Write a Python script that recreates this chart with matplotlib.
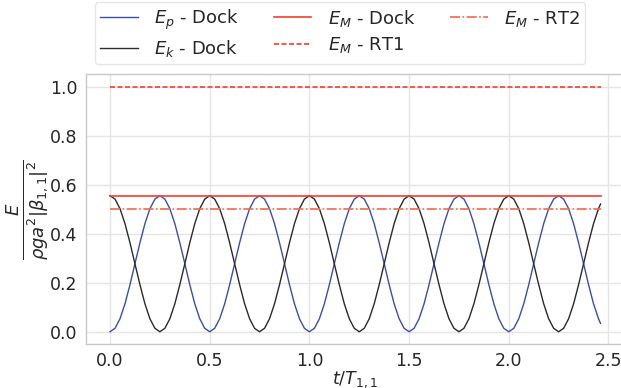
import numpy as np
import matplotlib
matplotlib.use("Agg")
import matplotlib.pyplot as plt

# time samples t/T_{1,1}
t = [round(0.025 * k, 3) for k in range(99)] + [2.46]

# potential energy (Dock)
Ep = [
    0.000, 0.014, 0.053, 0.114, 0.192, 0.278, 0.363, 0.441, 0.502, 0.541,
    0.555, 0.541, 0.502, 0.441, 0.363, 0.278, 0.192, 0.114, 0.053, 0.014,
    0.000, 0.014, 0.053, 0.114, 0.192, 0.278, 0.363, 0.441, 0.502, 0.541,
    0.555, 0.541, 0.502, 0.441, 0.363, 0.278, 0.192, 0.114, 0.053, 0.014,
    0.000, 0.014, 0.053, 0.114, 0.192, 0.278, 0.363, 0.441, 0.502, 0.541,
    0.555, 0.541, 0.502, 0.441, 0.363, 0.278, 0.192, 0.114, 0.053, 0.014,
    0.000, 0.014, 0.053, 0.114, 0.192, 0.278, 0.363, 0.441, 0.502, 0.541,
    0.555, 0.541, 0.502, 0.441, 0.363, 0.278, 0.192, 0.114, 0.053, 0.014,
    0.000, 0.014, 0.053, 0.114, 0.192, 0.278, 0.363, 0.441, 0.502, 0.541,
    0.555, 0.541, 0.502, 0.441, 0.363, 0.278, 0.192, 0.114, 0.053, 0.034,
]

# kinetic energy (Dock)
Ek = [
    0.555, 0.541, 0.502, 0.441, 0.363, 0.277, 0.192, 0.114, 0.053, 0.014,
    0.000, 0.014, 0.053, 0.114, 0.192, 0.277, 0.363, 0.441, 0.502, 0.541,
    0.555, 0.541, 0.502, 0.441, 0.363, 0.277, 0.192, 0.114, 0.053, 0.014,
    0.000, 0.014, 0.053, 0.114, 0.192, 0.277, 0.363, 0.441, 0.502, 0.541,
    0.555, 0.541, 0.502, 0.441, 0.363, 0.277, 0.192, 0.114, 0.053, 0.014,
    0.000, 0.014, 0.053, 0.114, 0.192, 0.277, 0.363, 0.441, 0.502, 0.541,
    0.555, 0.541, 0.502, 0.441, 0.363, 0.277, 0.192, 0.114, 0.053, 0.014,
    0.000, 0.014, 0.053, 0.114, 0.192, 0.277, 0.363, 0.441, 0.502, 0.541,
    0.555, 0.541, 0.502, 0.441, 0.363, 0.277, 0.192, 0.114, 0.053, 0.014,
    0.000, 0.014, 0.053, 0.114, 0.192, 0.277, 0.363, 0.441, 0.502, 0.521,
]

EM_dock = 0.555
EM_rt1 = 1.0
EM_rt2 = 0.5

labels = [r"$E_p$ - Dock", r"$E_k$ - Dock", r"$E_M$ - Dock", r"$E_M$ - RT1", r"$E_M$ - RT2"]
xticks = [0.0, 0.5, 1.0, 1.5, 2.0, 2.5]
yticks = [0.0, 0.2, 0.4, 0.6, 0.8, 1.0]

plt.rcParams['font.family'] = ['DejaVu Sans']
plt.rcParams['mathtext.fontset'] = 'dejavusans'
txt = '#262626'
fs = 12.5

fig = plt.figure(figsize=(6.21, 3.88), dpi=100)
ax = fig.add_axes([0.1377, 0.1134, 0.8688, 0.695])

n = len(t)
h1, = ax.plot(t, Ep, color='#3a4db3', lw=1.0)
h2, = ax.plot(t, Ek, color='#2a2a2a', lw=1.0)
h3, = ax.plot(t, [EM_dock] * n, color='#f53d30', lw=1.2)
h4, = ax.plot(t, [EM_rt1] * n, color='#f53d30', lw=1.2, ls=(0, (3, 1.5)))
h5, = ax.plot(t, [EM_rt2] * n, color='#f4664a', lw=1.2, ls=(0, (6, 1.5, 1, 1.5)))

ax.set_xlim(-0.123, 2.583)
ax.set_ylim(-0.05, 1.05)
ax.set_xticks(xticks)
ax.set_yticks(yticks)
ax.set_xticklabels([f"{v:.1f}" for v in xticks])
ax.set_yticklabels([f"{v:.1f}" for v in yticks])
ax.tick_params(axis='both', labelsize=fs, colors=txt, length=0, pad=6)
ax.grid(True, color='#e5e5e5', lw=1.0)
ax.set_axisbelow(True)
for s in ax.spines.values():
    s.set_color('#c8c8c8')
    s.set_linewidth(1.0)

ax.set_xlabel(r"$t/T_{1,1}$", fontsize=fs, color=txt, labelpad=-1)
ax.set_ylabel(r"$\frac{E}{\rho g a^2|\beta_{1,1}|^2}$", fontsize=18.5, color=txt, labelpad=0)

leg = fig.legend([h1, h2, h3, h4, h5], labels, ncol=3, loc='upper center',
                 bbox_to_anchor=(340 / 621, 1 - 2.0 / 388), fontsize=13,
                 frameon=True, fancybox=True, edgecolor='#e0e0e0',
                 columnspacing=1.9, handlelength=2.1, handletextpad=0.9,
                 labelspacing=0.35, borderpad=0.3, borderaxespad=0.0)
for tx in leg.get_texts():
    tx.set_color(txt)

fig.savefig("out.png", dpi=100)
